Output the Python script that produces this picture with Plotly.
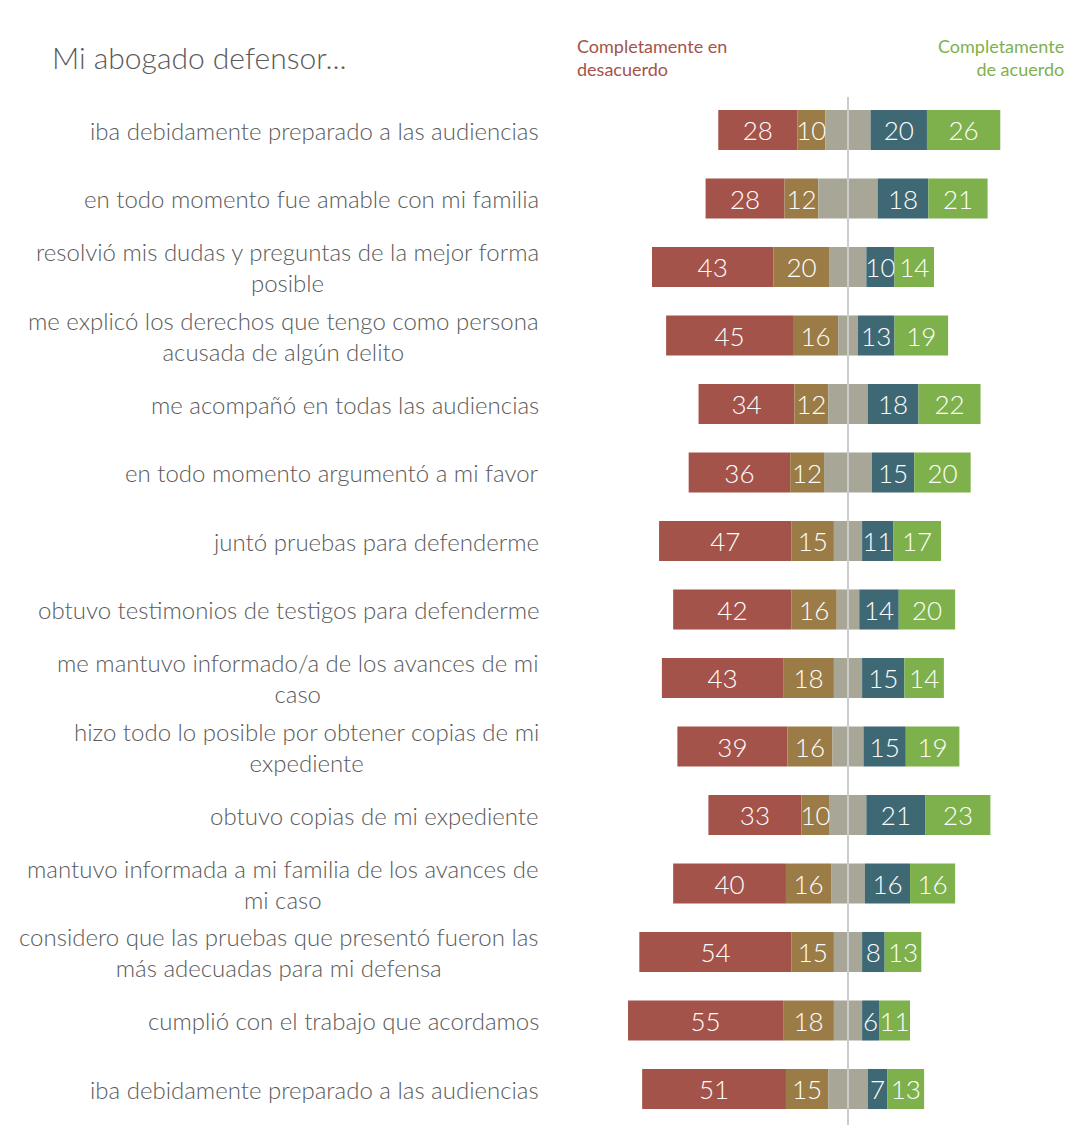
import plotly.graph_objects as go

categories = [
    "iba debidamente preparado a las audiencias",
    "en todo momento fue amable con mi familia",
    "resolvió mis dudas y preguntas de la mejor forma<br>posible",
    "me explicó los derechos que tengo como persona<br>acusada de algún delito",
    "me acompañó en todas las audiencias",
    "en todo momento argumentó a mi favor",
    "juntó pruebas para defenderme",
    "obtuvo testimonios de testigos para defenderme",
    "me mantuvo informado/a de los avances de mi<br>caso",
    "hizo todo lo posible por obtener copias de mi<br>expediente",
    "obtuvo copias de mi expediente",
    "mantuvo informada a mi familia de los avances de<br>mi caso",
    "considero que las pruebas que presentó fueron las<br>más adecuadas para mi defensa",
    "cumplió con el trabajo que acordamos",
    "iba debidamente preparado a las audiencias",
]
strong_disagree = [28, 28, 43, 45, 34, 36, 47, 42, 43, 39, 33, 40, 54, 55, 51]
disagree        = [10, 12, 20, 16, 12, 12, 15, 16, 18, 16, 10, 16, 15, 18, 15]
agree           = [20, 18, 10, 13, 18, 15, 11, 14, 15, 15, 21, 16, 8, 6, 7]
strong_agree    = [26, 21, 14, 19, 22, 20, 17, 20, 14, 19, 23, 16, 13, 11, 13]
neutral = [100 - a - b - c - d for a, b, c, d in zip(strong_disagree, disagree, agree, strong_agree)]

C_RED = "#A4534A"
C_BROWN = "#9B7C47"
C_GREY = "#A7A697"
C_TEAL = "#3F6875"
C_GREEN = "#7EB14B"
TXT = "#5a5a5a"
FONT = "Lato"

OFF = 8  # page body margin
W, H = 1076 - 2 * OFF, 1144 - 2 * OFF
ML, MR = 560 - OFF, 2
MT, MB = 97 - OFF, 1144 - 1125 - OFF
PW = W - ML - MR
PH = H - MT - MB
CX = 848 - OFF
PPU = 2.82
x_range = [-(CX - ML) / PPU, (W - MR - CX) / PPU]
y_range = [14 + 36 / 68.5, -33 / 68.5]

def px(x):
    return (x - OFF - ML) / PW

def py(y):
    return 1 - (y - OFF - MT) / PH

ys = list(range(len(categories)))
half_n = [n / 2 for n in neutral]

bw = 0.585
fig = go.Figure()
common = dict(orientation="h", width=bw, textposition="inside", insidetextanchor="middle",
              constraintext="none", textfont=dict(color="white", size=26, family=FONT, weight=300),
              marker_line_width=0, hoverinfo="skip", showlegend=False, cliponaxis=False)

fig.add_trace(go.Bar(y=ys, x=strong_disagree,
                     base=[-h - d - s for h, d, s in zip(half_n, disagree, strong_disagree)],
                     marker_color=C_RED, text=[str(v) for v in strong_disagree], **common))
fig.add_trace(go.Bar(y=ys, x=disagree, base=[-h - d for h, d in zip(half_n, disagree)],
                     marker_color=C_BROWN, text=[str(v) for v in disagree], **common))
fig.add_trace(go.Bar(y=ys, x=neutral, base=[-h for h in half_n],
                     marker_color=C_GREY, **common))
fig.add_trace(go.Bar(y=ys, x=agree, base=half_n,
                     marker_color=C_TEAL, text=[str(v) for v in agree], **common))
fig.add_trace(go.Bar(y=ys, x=strong_agree, base=[h + a for h, a in zip(half_n, agree)],
                     marker_color=C_GREEN, text=[str(v) for v in strong_agree], **common))

fig.add_shape(type="line", xref="x", yref="paper", x0=0, x1=0, y0=0, y1=1,
              line=dict(color="#cccccc", width=2), layer="above")

annotations = []
for i, cat in enumerate(categories):
    annotations.append(dict(xref="paper", yref="y", x=px(541), y=i, text=cat,
                            xanchor="right", yanchor="middle", align="center",
                            showarrow=False,
                            font=dict(size=24, color=TXT, family=FONT, weight=300)))
annotations.append(dict(xref="paper", yref="paper", x=px(50), y=py(57),
                        text="Mi abogado defensor...", xanchor="left", yanchor="middle",
                        showarrow=False, font=dict(size=30, color=TXT, family=FONT, weight=300)))
annotations.append(dict(xref="paper", yref="paper", x=px(575), y=py(58),
                        text="Completamente en<br>desacuerdo", xanchor="left", yanchor="middle",
                        align="left", showarrow=False,
                        font=dict(size=18, color=C_RED, family=FONT)))
annotations.append(dict(xref="paper", yref="paper", x=px(1066), y=py(58),
                        text="Completamente<br>de acuerdo", xanchor="right", yanchor="middle",
                        align="right", showarrow=False,
                        font=dict(size=18, color=C_GREEN, family=FONT)))

fig.update_layout(
    width=W, height=H,
    margin=dict(l=ML, r=MR, t=MT, b=MB),
    paper_bgcolor="white", plot_bgcolor="white",
    barmode="overlay",
    xaxis=dict(range=x_range, visible=False, fixedrange=True),
    yaxis=dict(range=y_range, visible=False, fixedrange=True),
    annotations=annotations,
    font=dict(family=FONT),
)

fig.write_html("out.html")
